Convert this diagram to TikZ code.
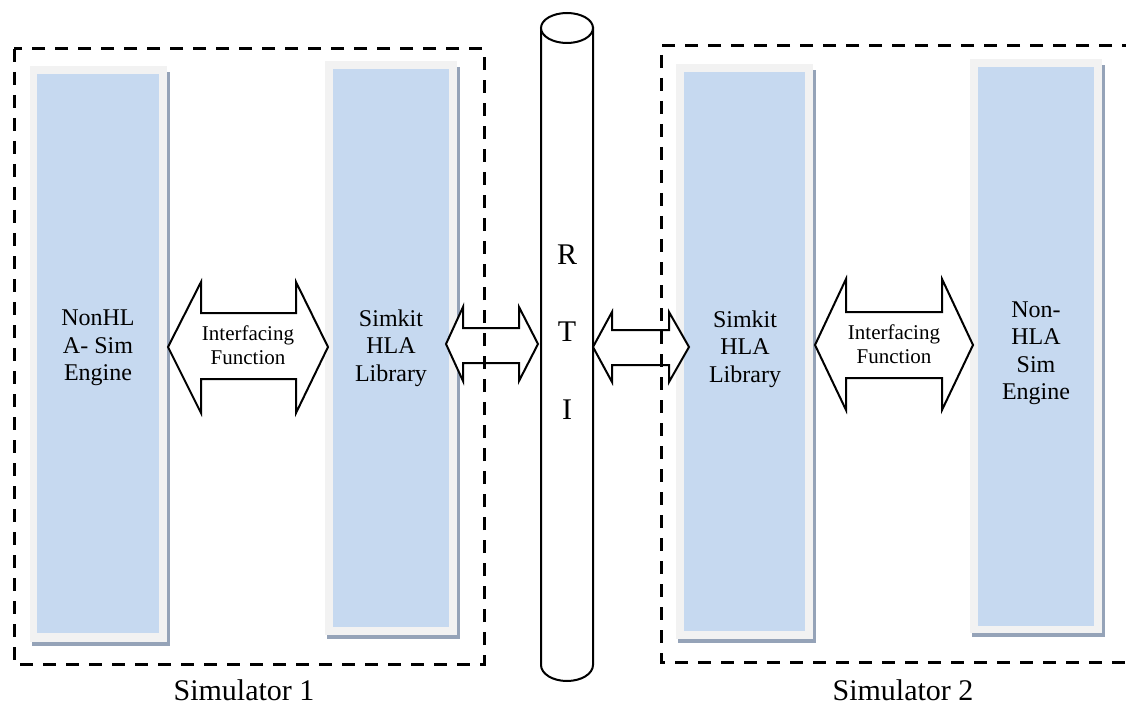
\documentclass[tikz,border=0pt]{standalone}
\usepackage{fontspec}
\setmainfont{Liberation Serif}
\definecolor{boxblue}{HTML}{C6D9F0}
\definecolor{boxgray}{HTML}{F2F2F2}
\definecolor{boxshadow}{HTML}{95A3B8}
\begin{document}
\begin{tikzpicture}[x=1pt,y=-1pt,
  shadowfill/.style={fill=boxshadow,draw=none},
  outerfill/.style={fill=boxgray,draw=none},
  bluebox/.style={fill=boxblue,draw=none,inner sep=0pt,align=center,
     font=\fontsize{24}{27.5}\selectfont},
  blockarrow/.style={draw=black,line width=2pt,fill=white,line join=miter},
  arrowtext/.style={align=center,font=\fontsize{21}{24.5}\selectfont,inner sep=0pt},
  simbox/.style={draw=black,line width=3pt,dash pattern=on 13pt off 10pt},
  cyl/.style={draw=black,line width=2pt,fill=white},
  rtitext/.style={font=\fontsize{30}{32}\selectfont,inner sep=0pt},
  simlabel/.style={font=\fontsize{30}{32}\selectfont,inner sep=0pt}]
\useasboundingbox (0,0) rectangle (1126,711);

% Box A
\fill[shadowfill] (32,72) rectangle (170,646);
\fill[outerfill] (30,66) rectangle (167,642);
\path[bluebox] (37,74) rectangle (159,633);
\node[bluebox] (engA) at (98,348) {NonHL\\A- Sim\\Engine};
% Box B
\fill[shadowfill] (327,67) rectangle (460,639);
\fill[outerfill] (325,61) rectangle (457,635);
\path[bluebox] (333,69) rectangle (449,627);
\node[bluebox] (libB) at (391,348) {Simkit\\HLA\\Library};
% Box C
\fill[shadowfill] (678,70) rectangle (816,643);
\fill[outerfill] (676,64) rectangle (813,639);
\path[bluebox] (684,72) rectangle (805,631);
\node[bluebox] (libC) at (745,349) {Simkit\\HLA\\Library};
% Box D
\fill[shadowfill] (972,65) rectangle (1105,637);
\fill[outerfill] (970,59) rectangle (1102,633);
\path[bluebox] (978,67) rectangle (1094,626);
\node[bluebox] (engD) at (1036,353) {Non-\\HLA\\Sim\\Engine};

% RTI cylinder
\path[cyl] (541,28) -- (541,665) arc[start angle=180,end angle=360,x radius=26,y radius=-16] -- (593,28) -- cycle;
\draw[cyl] (567,28) ellipse[x radius=26,y radius=15];
\node[rtitext] (r) at (567,255) {R};
\node[rtitext] (t) at (567,332) {T};
\node[rtitext] (i) at (567,410) {I};

% Block arrows
\draw[blockarrow] (168,347) -- (201,282) -- (201,313) -- (296,313) -- (296,282) -- (328,347)
  -- (296,413) -- (296,379) -- (201,379) -- (201,413) -- cycle;
\node[arrowtext] (ifL) at (248,345) {Interfacing\\Function};
\draw[blockarrow] (815,345) -- (846,279) -- (846,312) -- (942,312) -- (942,279) -- (973,345)
  -- (942,410) -- (942,378) -- (846,378) -- (846,410) -- cycle;
\node[arrowtext] (ifR) at (894,344) {Interfacing\\Function};
\draw[blockarrow] (446,344) -- (463,307) -- (463,328) -- (519,328) -- (519,307) -- (538,344)
  -- (519,381) -- (519,363) -- (463,363) -- (463,381) -- cycle;
\draw[blockarrow] (593,347) -- (612,312) -- (612,330) -- (669,330) -- (669,312) -- (689,347)
  -- (669,382) -- (669,365) -- (612,365) -- (612,382) -- cycle;

% Simulator boxes
\draw[simbox] (14,49) rectangle (484,664);
\draw[simbox] (1135,46) -- (661,46) -- (661,662) -- (1135,662);
\node[simlabel] (s1) at (244,690) {Simulator 1};
\node[simlabel] (s2) at (903,690) {Simulator 2};
\end{tikzpicture}
\end{document}
